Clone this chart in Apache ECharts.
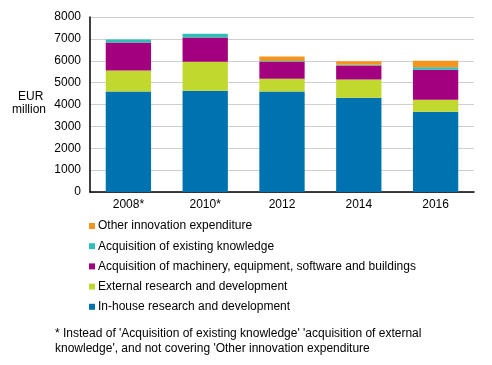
<!DOCTYPE html>
<html><head><meta charset="utf-8">
<script src="https://cdn.jsdelivr.net/npm/echarts@6/dist/echarts.min.js"></script>
<style>html,body{margin:0;padding:0;background:#fff}#c{width:492px;height:365px}</style>
</head><body><div id="c"></div>
<script>
const categories = ['2008*', '2010*', '2012', '2014', '2016'];
const inHouse = [4590, 4630, 4590, 4310, 3670];
const external = [960, 1330, 590, 830, 550];
const machinery = [1280, 1100, 780, 640, 1370];
const existing = [140, 180, 30, 40, 110];
const other = [null, null, 200, 160, 300];
const yTicks = [0, 1000, 2000, 3000, 4000, 5000, 6000, 7000, 8000];

const names = ['In-house research and development', 'External research and development',
  'Acquisition of machinery, equipment, software and buildings', 'Acquisition of existing knowledge',
  'Other innovation expenditure'];
const colors = ['#0072b0', '#c1d82f', '#a3007f', '#2ebfb6', '#f7941d'];
const datas = [inHouse, external, machinery, existing, other];
const font = 'Liberation Sans, Arial, sans-serif';

const chart = echarts.init(document.getElementById('c'));
chart.setOption({
  animation: false,
  color: colors,
  grid: { left: 90, right: 18, top: 17, bottom: 173 },
  xAxis: {
    type: 'category', data: categories,
    axisLine: { lineStyle: { color: '#000', width: 1.5 } },
    axisTick: { show: false },
    axisLabel: { color: '#000', fontSize: 12, fontFamily: font, margin: 7 }
  },
  yAxis: {
    type: 'value', min: yTicks[0], max: yTicks[yTicks.length - 1], interval: 1000,
    axisLine: { show: true, lineStyle: { color: '#000', width: 1.5 } },
    axisTick: { show: false },
    axisLabel: { color: '#000', fontSize: 12, fontFamily: font, margin: 9, formatter: v => String(v) },
    splitLine: { lineStyle: { color: '#cfcfcf', width: 1 } }
  },
  legend: {
    orient: 'vertical', left: 84, top: 215,
    data: names.slice().reverse(),
    itemWidth: 6, itemHeight: 6, itemGap: 8.2, icon: 'rect',
    textStyle: { color: '#000', fontSize: 12, fontFamily: font, padding: [0, 0, 0, -2] }
  },
  series: names.map((n, i) => ({
    name: n, type: 'bar', stack: 'total', data: datas[i],
    barCategoryGap: '41%'
  })),
  graphic: [
    { type: 'text', left: 18, top: 91, style: { text: 'EUR', fontSize: 12, fontFamily: font, fill: '#000' } },
    { type: 'text', left: 12, top: 104, style: { text: 'million', fontSize: 12, fontFamily: font, fill: '#000' } },
    { type: 'text', left: 55, top: 326, style: {
      text: "* Instead of 'Acquisition of existing knowledge' 'acquisition of external\nknowledge', and not covering 'Other innovation expenditure",
      fontSize: 12, fontFamily: font, fill: '#000', lineHeight: 15 } }
  ]
});
</script></body></html>
